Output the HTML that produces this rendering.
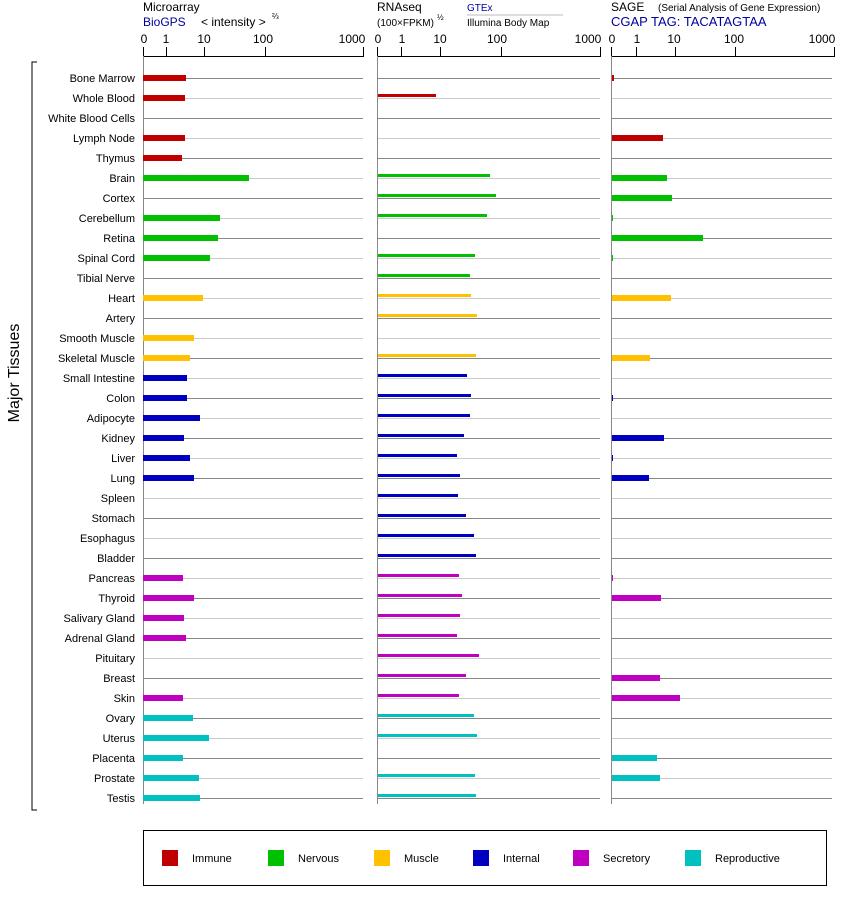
<!DOCTYPE html>
<html><head><meta charset="utf-8"><style>
body{margin:0;background:#fff}
svg{display:block;font-family:"Liberation Sans",Arial,sans-serif}
</style></head><body>
<svg width="842" height="900" viewBox="0 0 842 900" xmlns="http://www.w3.org/2000/svg">
<g font-size="11" fill="#000" text-anchor="end">
<text x="135" y="82">Bone Marrow</text><text x="135" y="102">Whole Blood</text><text x="135" y="122">White Blood Cells</text><text x="135" y="142">Lymph Node</text><text x="135" y="162">Thymus</text><text x="135" y="182">Brain</text><text x="135" y="202">Cortex</text><text x="135" y="222">Cerebellum</text><text x="135" y="242">Retina</text><text x="135" y="262">Spinal Cord</text><text x="135" y="282">Tibial Nerve</text><text x="135" y="302">Heart</text><text x="135" y="322">Artery</text><text x="135" y="342">Smooth Muscle</text><text x="135" y="362">Skeletal Muscle</text><text x="135" y="382">Small Intestine</text><text x="135" y="402">Colon</text><text x="135" y="422">Adipocyte</text><text x="135" y="442">Kidney</text><text x="135" y="462">Liver</text><text x="135" y="482">Lung</text><text x="135" y="502">Spleen</text><text x="135" y="522">Stomach</text><text x="135" y="542">Esophagus</text><text x="135" y="562">Bladder</text><text x="135" y="582">Pancreas</text><text x="135" y="602">Thyroid</text><text x="135" y="622">Salivary Gland</text><text x="135" y="642">Adrenal Gland</text><text x="135" y="662">Pituitary</text><text x="135" y="682">Breast</text><text x="135" y="702">Skin</text><text x="135" y="722">Ovary</text><text x="135" y="742">Uterus</text><text x="135" y="762">Placenta</text><text x="135" y="782">Prostate</text><text x="135" y="802">Testis</text>
</g>
<text x="19" y="373" font-size="16" text-anchor="middle" transform="rotate(-90 19 373)">Major Tissues</text>
<path d="M37 62H32V810H37" fill="none" stroke="#000"/>
<text x="143" y="11" font-size="12">Microarray</text>
<text x="143" y="26" font-size="12" fill="#00009c">BioGPS</text>
<text x="201" y="26" font-size="12">&lt; intensity &gt;</text><text x="272" y="19" font-size="8">⅔</text>
<text x="377" y="11" font-size="12">RNAseq</text>
<text x="377" y="26" font-size="10">(100×FPKM)</text><text x="437" y="20" font-size="8">½</text>
<text x="467" y="11" font-size="10" fill="#00009c">GTEx</text>
<line x1="467" y1="15" x2="563" y2="15" stroke="#bbb"/>
<text x="467" y="26" font-size="10">Illumina Body Map</text>
<text x="611" y="11" font-size="12">SAGE</text><text x="658" y="11" font-size="10">(Serial Analysis of Gene Expression)</text>
<text x="611" y="26" font-size="13" fill="#00009c">CGAP TAG: TACATAGTAA</text>
<g font-size="12" text-anchor="middle">
<text x="144" y="43">0</text><text x="166" y="43">1</text><text x="204" y="43">10</text><text x="263" y="43">100</text><text x="352" y="43">1000</text>
<text x="378" y="43">0</text><text x="402" y="43">1</text><text x="440" y="43">10</text><text x="497" y="43">100</text><text x="588" y="43">1000</text>
<text x="612" y="43">0</text><text x="637" y="43">1</text><text x="674" y="43">10</text><text x="734" y="43">100</text><text x="822" y="43">1000</text>
</g>
<g stroke="#000" fill="none">
<path d="M143.5 47V56.5H363.5V47M166.5 47V56M204.5 47V56M265.5 47V56"/>
<path d="M377.5 47V56.5H600.5V47M401.5 47V56M440.5 47V56M501.5 47V56"/>
<path d="M611.5 47V56.5H834.5V47M636.5 47V56M675.5 47V56M735.5 47V56"/>
</g>
<g stroke="#888"><path d="M143 78.5H363M377 78.5H600M611 78.5H832M143 118.5H363M377 118.5H600M611 118.5H832M143 158.5H363M377 158.5H600M611 158.5H832M143 198.5H363M377 198.5H600M611 198.5H832M143 238.5H363M377 238.5H600M611 238.5H832M143 278.5H363M377 278.5H600M611 278.5H832M143 318.5H363M377 318.5H600M611 318.5H832M143 358.5H363M377 358.5H600M611 358.5H832M143 398.5H363M377 398.5H600M611 398.5H832M143 438.5H363M377 438.5H600M611 438.5H832M143 478.5H363M377 478.5H600M611 478.5H832M143 518.5H363M377 518.5H600M611 518.5H832M143 558.5H363M377 558.5H600M611 558.5H832M143 598.5H363M377 598.5H600M611 598.5H832M143 638.5H363M377 638.5H600M611 638.5H832M143 678.5H363M377 678.5H600M611 678.5H832M143 718.5H363M377 718.5H600M611 718.5H832M143 758.5H363M377 758.5H600M611 758.5H832M143 798.5H363M377 798.5H600M611 798.5H832"/></g>
<g stroke="#ccc"><path d="M143 98.5H363M377 98.5H600M611 98.5H832M143 138.5H363M377 138.5H600M611 138.5H832M143 178.5H363M377 178.5H600M611 178.5H832M143 218.5H363M377 218.5H600M611 218.5H832M143 258.5H363M377 258.5H600M611 258.5H832M143 298.5H363M377 298.5H600M611 298.5H832M143 338.5H363M377 338.5H600M611 338.5H832M143 378.5H363M377 378.5H600M611 378.5H832M143 418.5H363M377 418.5H600M611 418.5H832M143 458.5H363M377 458.5H600M611 458.5H832M143 498.5H363M377 498.5H600M611 498.5H832M143 538.5H363M377 538.5H600M611 538.5H832M143 578.5H363M377 578.5H600M611 578.5H832M143 618.5H363M377 618.5H600M611 618.5H832M143 658.5H363M377 658.5H600M611 658.5H832M143 698.5H363M377 698.5H600M611 698.5H832M143 738.5H363M377 738.5H600M611 738.5H832M143 778.5H363M377 778.5H600M611 778.5H832"/></g>
<g stroke="#888"><path d="M143.5 56V804M377.5 56V804M611.5 56V804"/></g>
<g stroke-width="6">
<path stroke="#c00000" d="M143 78H186M143 98H185M143 138H185M143 158H182"/>
<path stroke="#00c000" d="M143 178H249M143 218H220M143 238H218M143 258H210"/>
<path stroke="#ffc000" d="M143 298H203M143 338H194M143 358H190"/>
<path stroke="#0000c0" d="M143 378H187M143 398H187M143 418H200M143 438H184M143 458H190M143 478H194"/>
<path stroke="#c000c0" d="M143 578H183M143 598H194M143 618H184M143 638H186M143 698H183"/>
<path stroke="#00c0c0" d="M143 718H193M143 738H209M143 758H183M143 778H199M143 798H200"/>
</g>
<g stroke-width="3">
<path stroke="#c00000" d="M378 95.5H436"/>
<path stroke="#00c000" d="M378 175.5H490M378 195.5H496M378 215.5H487M378 255.5H475M378 275.5H470"/>
<path stroke="#ffc000" d="M378 295.5H471M378 315.5H477M378 355.5H476"/>
<path stroke="#0000c0" d="M378 375.5H467M378 395.5H471M378 415.5H470M378 435.5H464M378 455.5H457M378 475.5H460M378 495.5H458M378 515.5H466M378 535.5H474M378 555.5H476"/>
<path stroke="#c000c0" d="M378 575.5H459M378 595.5H462M378 615.5H460M378 635.5H457M378 655.5H479M378 675.5H466M378 695.5H459"/>
<path stroke="#00c0c0" d="M378 715.5H474M378 735.5H477M378 775.5H475M378 795.5H476"/>
</g>
<g stroke-width="6">
<path stroke="#c00000" d="M612 78H614M612 138H663"/>
<path stroke="#00c000" d="M612 178H667M612 198H672M612 218H613M612 238H703M612 258H613"/>
<path stroke="#ffc000" d="M612 298H671M612 358H650"/>
<path stroke="#0000c0" d="M612 398H613M612 438H664M612 458H613M612 478H649"/>
<path stroke="#c000c0" d="M612 578H613M612 598H661M612 678H660M612 698H680"/>
<path stroke="#00c0c0" d="M612 758H657M612 778H660"/>
</g>
<rect x="143.5" y="830.5" width="683" height="55" fill="none" stroke="#000"/>
<g font-size="11">
<rect x="162" y="850" width="16" height="16" fill="#c00000"/><text x="192" y="862">Immune</text>
<rect x="268" y="850" width="16" height="16" fill="#00c000"/><text x="298" y="862">Nervous</text>
<rect x="374" y="850" width="16" height="16" fill="#ffc000"/><text x="404" y="862">Muscle</text>
<rect x="473" y="850" width="16" height="16" fill="#0000c0"/><text x="503" y="862">Internal</text>
<rect x="573" y="850" width="16" height="16" fill="#c000c0"/><text x="603" y="862">Secretory</text>
<rect x="685" y="850" width="16" height="16" fill="#00c0c0"/><text x="715" y="862">Reproductive</text>
</g>
</svg>
</body></html>
